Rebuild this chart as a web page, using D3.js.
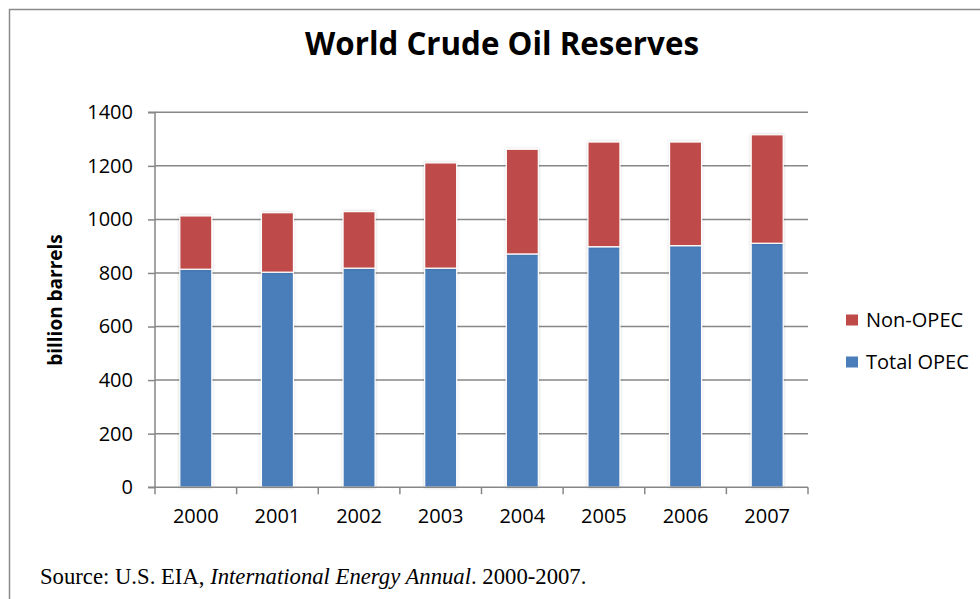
<!DOCTYPE html>
<html><head><meta charset="utf-8">
<script src="https://cdn.jsdelivr.net/npm/d3@7"></script>
<style>html,body{margin:0;padding:0;background:#fff;} svg{display:block;}</style>
</head><body>
<svg id="chart" width="980" height="599"></svg>
<script>
// ---- data ----
const years = ["2000","2001","2002","2003","2004","2005","2006","2007"];
const totalOPEC = [814, 803, 818, 818, 871, 898, 902, 911];
const nonOPEC   = [199, 222, 211, 393, 391, 391, 387, 405];
const yTicks = [0, 200, 400, 600, 800, 1000, 1200, 1400];
const seriesNames = ["Total OPEC", "Non-OPEC"];
const seriesColors = ["#4a7ebb", "#be4b48"];
const titleText = "World Crude Oil Reserves";
const yAxisTitle = "billion barrels";

const svg = d3.select("#chart");
const font = "'Open Sans', sans-serif";

// frame border
svg.append("path").attr("d", "M9.5,599 V9.5 H980").attr("fill","none").attr("stroke","#8a8a8a").attr("stroke-width",1.5);

const pL = 155, pR = 808, pT = 112.3, pB = 487.2;
const x = d3.scaleBand().domain(years).range([pL, pR]).paddingInner(0.608).paddingOuter(0.304);
const y = d3.scaleLinear().domain([0, 1400]).range([pB, pT]);

// shadow filter
const defs = svg.append("defs");
const f = defs.append("filter").attr("id","sh").attr("x","-30%").attr("y","-10%").attr("width","160%").attr("height","120%");
f.append("feDropShadow").attr("dx",0).attr("dy",0).attr("stdDeviation",1.6).attr("flood-color","#000").attr("flood-opacity",0.18);

// gridlines
svg.append("g").selectAll("line").data(yTicks.filter(d => d > 0)).join("line")
  .attr("x1", pL).attr("x2", pR).attr("y1", d => y(d)).attr("y2", d => y(d))
  .attr("stroke", "#878787").attr("stroke-width", 1.5);

// stacked data
const table = years.map((yr, i) => ({year: yr, "Total OPEC": totalOPEC[i], "Non-OPEC": nonOPEC[i]}));
const stack = d3.stack().keys(seriesNames)(table);

const gBars = svg.append("g");
stack.forEach((s, si) => {
  gBars.append("g").selectAll("rect").data(s).join("rect")
    .attr("x", d => x(d.data.year))
    .attr("width", x.bandwidth())
    .attr("y", d => y(d[1]))
    .attr("height", d => y(d[0]) - y(d[1]))
    .attr("fill", seriesColors[si])
    .attr("stroke", "#fff").attr("stroke-width", 1.2)
    .attr("filter", "url(#sh)");
});

// y axis
const yAxis = d3.axisLeft(y).tickValues(yTicks).tickSize(7).tickPadding(15).tickFormat(d3.format("d"));
const gy = svg.append("g").attr("transform", `translate(${pL},0)`).call(yAxis);
gy.select(".domain").attr("stroke", "#878787").attr("stroke-width", 1.5).attr("d", `M-7,${pT}H0V${pB}H-7`);
gy.selectAll(".tick line").attr("stroke", "#878787").attr("stroke-width", 1.5);
gy.selectAll(".tick text").attr("font-family", font).attr("font-size", 20).attr("fill", "#000");

// x axis
const xAxis = d3.axisBottom(x).tickSize(0).tickPadding(22);
const gx = svg.append("g").attr("transform", `translate(0,${pB})`).call(xAxis);
gx.select(".domain").attr("stroke", "#878787").attr("stroke-width", 1.5).attr("d", `M${pL},0H${pR}`);
gx.selectAll(".tick text").attr("font-family", font).attr("font-size", 20).attr("fill", "#000");
// boundary ticks
const bounds = years.map(yr => x(yr) - x.step()*x.paddingInner()/2).concat([pR]);
gx.append("g").selectAll("line").data(bounds).join("line")
  .attr("x1", d => d).attr("x2", d => d).attr("y1", 0).attr("y2", 7)
  .attr("stroke", "#878787").attr("stroke-width", 1.5);

// title (font size fitted to the reference's width)
const title = svg.append("text").attr("x", 502).attr("y", 55).attr("text-anchor", "middle")
  .attr("font-family", font).attr("font-weight", 700).attr("font-size", 28).attr("fill", "#000")
  .text(titleText);
const tl = title.node().getComputedTextLength();
title.attr("font-size", 28 * 394 / tl);

// y axis title
svg.append("text").attr("transform", "translate(62,300) rotate(-90)").attr("text-anchor", "middle")
  .attr("font-family", font).attr("font-weight", 700).attr("font-size", 19).attr("fill", "#000")
  .text(yAxisTitle);

// legend
const legend = svg.append("g");
const legItems = [{name: "Non-OPEC", color: seriesColors[1], y: 320}, {name: "Total OPEC", color: seriesColors[0], y: 362}];
legItems.forEach(it => {
  legend.append("rect").attr("x", 846).attr("y", it.y - 5.5).attr("width", 12).attr("height", 11).attr("fill", it.color);
  legend.append("text").attr("x", 866).attr("y", it.y + 7).attr("font-family", font).attr("font-size", 20).attr("fill", "#000").text(it.name);
});

// source
const src = svg.append("text").attr("x", 40).attr("y", 584)
  .attr("font-family", "'Liberation Serif', serif").attr("font-size", 22.7).attr("fill", "#000");
src.append("tspan").text("Source: U.S. EIA, ");
src.append("tspan").attr("font-style", "italic").text("International Energy Annual");
src.append("tspan").text(". 2000-2007.");
</script>
</body></html>
